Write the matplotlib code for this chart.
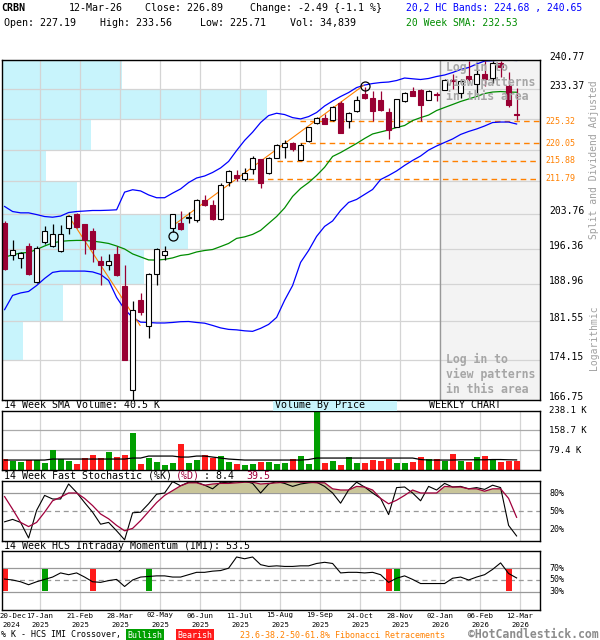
import matplotlib
matplotlib.use('Agg')
import matplotlib.pyplot as plt
import matplotlib.transforms as mtransforms
from matplotlib.ticker import NullLocator
import numpy as np

plt.rcParams['font.family'] = ['DejaVu Sans Mono']

# ---------------- data ----------------
date_labels = ['20-Dec', '17-Jan', '21-Feb', '28-Mar', '02-May', '06-Jun', '11-Jul',
               '15-Aug', '19-Sep', '24-Oct', '28-Nov', '02-Jan', '06-Feb', '12-Mar']
year_labels = ['2024', '2025', '2025', '2025', '2025', '2025', '2025',
               '2025', '2025', '2025', '2025', '2026', '2026', '2026']

opens = [201.86, 194.94, 194.46, 196.84, 189.37, 197.76, 196.9, 195.84, 200.87, 203.9,
         201.58, 200.07, 193.7, 192.86, 195.3, 188.7, 168.5, 185.7, 180.55, 190.98,
         195.09, 200.87, 201.86, 202.98, 202.44, 207.03, 205.76, 202.66, 210.98, 212.53,
         211.77, 214.08, 216.24, 213.15, 216.63, 219.1, 220.05, 216.17, 220.56, 224.87,
         226.07, 225.68, 229.79, 225.35, 227.98, 232.13, 231.14, 230.64, 227.56, 223.91,
         230.29, 232.95, 233.2, 230.64, 232.13, 233.12, 235.75, 232.28, 236.6, 234.7,
         237.2, 236.18, 240.1, 234.2, 227.19]
highs = [202.23, 198.13, 195.63, 197.64, 196.84, 201.15, 201.73, 201.52, 203.74, 204.03,
         201.7, 200.7, 194.9, 195.3, 197.0, 192.86, 185.6, 187.16, 191.34, 196.6,
         196.9, 203.96, 204.6, 204.25, 207.1, 208.16, 207.0, 210.85, 213.69, 213.69,
         214.31, 216.94, 216.36, 216.7, 219.94, 220.94, 220.3, 220.0, 223.96, 226.32,
         227.16, 229.1, 230.46, 227.5, 231.46, 233.78, 232.77, 232.95, 228.55, 230.96,
         232.53, 233.96, 233.25, 233.0, 232.7, 235.93, 237.03, 235.93, 240.6, 239.77,
         240.6, 240.6, 240.5, 237.62, 233.56]
lows = [191.8, 194.05, 192.38, 190.9, 189.3, 197.27, 196.8, 195.63, 199.58, 200.9,
        195.3, 193.55, 188.84, 191.81, 190.7, 174.1, 166.7, 182.7, 178.38, 188.84,
        194.05, 199.86, 200.29, 201.86, 202.08, 205.7, 202.6, 202.44, 210.08, 211.2,
        211.2, 212.92, 209.73, 212.92, 216.6, 216.55, 218.17, 216.0, 220.32, 224.72,
        224.7, 225.5, 222.4, 223.67, 227.56, 230.89, 225.35, 227.81, 220.97, 223.84,
        230.04, 231.5, 225.35, 230.47, 230.29, 233.07, 233.37, 231.14, 235.49, 232.13,
        234.2, 234.97, 236.36, 228.97, 225.71]
closes = [192.02, 196.13, 195.42, 191.13, 196.55, 200.14, 199.57, 199.57, 203.52, 201.0,
          198.13, 196.34, 192.86, 193.69, 190.77, 174.2, 183.7, 183.36, 190.98, 196.34,
          195.84, 203.9, 200.65, 203.05, 206.88, 205.75, 202.66, 210.46, 213.46, 212.0,
          213.06, 216.63, 210.85, 216.63, 219.53, 220.14, 218.72, 219.7, 223.91, 226.07,
          224.72, 228.97, 222.57, 227.41, 230.71, 231.14, 227.81, 228.23, 223.12, 230.89,
          232.38, 231.53, 229.4, 232.95, 231.88, 235.67, 235.31, 235.49, 235.93, 237.2,
          235.93, 240.1, 239.06, 229.38, 226.89]

upper_band = [205.53, 204.41, 204.12, 204.12, 203.74, 203.31, 203.16, 203.41, 204.19, 204.41,
              204.52, 204.64, 204.64, 204.70, 204.79, 208.74, 209.28, 209.01, 208.11, 207.48,
              207.48, 208.51, 209.46, 210.91, 211.95, 212.41, 213.22, 214.27, 215.78, 218.33,
              220.73, 222.71, 225.04, 226.74, 227.31, 226.99, 226.24, 225.92, 226.49, 227.49,
              229.10, 230.34, 231.46, 232.45, 233.70, 234.34, 234.73, 234.98, 235.11, 235.49,
              236.13, 235.93, 235.75, 236.01, 236.52, 236.90, 237.54, 238.31, 238.82, 239.72,
              240.49, 240.6, 240.7, 240.7, 240.65]
sma20 = [194.59, 195.05, 195.46, 195.57, 196.19, 196.94, 197.59, 197.92, 198.07, 198.13,
         198.13, 197.98, 197.76, 197.48, 196.94, 196.30, 195.26, 194.63, 194.00, 193.96,
         194.11, 194.42, 194.94, 195.15, 195.67, 195.98, 196.19, 196.82, 197.48, 198.56,
         198.89, 199.42, 200.29, 201.80, 203.31, 205.20, 207.77, 209.57, 210.91, 212.53,
         214.42, 216.94, 217.86, 218.93, 220.01, 221.20, 222.28, 222.76, 223.24, 223.84,
         224.32, 225.52, 226.24, 226.86, 227.98, 228.73, 229.47, 230.22, 230.84, 231.46,
         232.20, 232.58, 232.70, 232.58, 232.53]
lower_band = [183.85, 186.70, 187.20, 187.50, 188.70, 190.15, 191.40, 191.67, 191.67, 191.67,
              191.67, 191.50, 190.98, 189.73, 186.30, 183.91, 182.31, 181.38, 181.32, 181.22,
              181.22, 181.32, 181.47, 181.51, 181.32, 181.18, 180.74, 180.26, 179.97, 179.88,
              179.69, 179.59, 180.17, 180.94, 182.31, 185.71, 188.70, 193.48, 195.98, 198.99,
              201.15, 202.34, 204.64, 206.43, 207.10, 208.22, 209.34, 211.60, 212.53, 213.57,
              214.85, 216.01, 217.05, 218.44, 219.41, 220.25, 221.08, 222.16, 222.88, 223.48,
              224.20, 225.04, 225.16, 225.16, 224.68]

price_grid = [166.75, 174.15, 181.55, 188.96, 196.36, 203.76, 211.16, 218.56, 225.97, 233.37, 240.77]
price_labels_shown = [166.75, 174.15, 181.55, 188.96, 196.36, 203.76, 233.37, 240.77]
fib_levels = [225.32, 220.05, 215.88, 211.79]
fib_start = [36.9, 36.9, 34.0, 30.4]
vbp_volume = [0, 21, 61, 142, 186, 75, 44, 89, 265, 120]

trend_down = ([7.96, 16.93], [203.52, 180.74])
trend_up = ([20.96, 44.84], [201.21, 234.21])
circle_idx = [21, 45]
circle_price = [199.06, 234.21]

volume_k = [44, 37, 32, 39, 39, 28, 80, 44, 37, 24, 48, 60, 48, 72, 52, 60, 150, 24, 48, 32,
            20, 28, 106, 28, 40, 60, 48, 56, 32, 24, 20, 24, 32, 32, 24, 28, 44, 56, 24, 238,
            28, 36, 20, 52, 28, 28, 40, 36, 44, 28, 28, 32, 52, 44, 44, 36, 64, 36, 32, 52,
            56, 44, 32, 36, 36]
vol_sma_k = [40, 40, 40, 40, 40, 40, 44, 44, 44, 44, 44, 44, 44, 44, 44, 44, 48, 48, 56, 56,
             56, 56, 52, 52, 56, 56, 52, 48, 44, 42, 40, 40, 40, 40, 40, 40, 40, 40, 42, 48,
             48, 48, 48, 48, 48, 48, 48, 48, 48, 48, 48, 48, 42, 40, 40, 40, 40, 41, 41, 41,
             41, 42, 42, 41, 40.5]
vol_ticks = [79.4, 158.7, 238.1]

stoch_k = [32, 36, 31, 5, 51, 76, 70, 70, 95, 81, 64, 48, 28, 31, 17, 2, 47, 48, 62, 78,
           80, 99, 92, 98, 98, 93, 87, 98, 97, 99, 100, 96, 80, 95, 99, 96, 91, 95, 97, 98,
           91, 80, 63, 85, 98, 90, 80, 71, 44, 89, 90, 80, 67, 91, 85, 96, 90, 91, 87, 89,
           86, 93, 89, 26, 8.4]
stoch_d = [74, 53, 31, 24, 31, 48, 67, 73, 80, 80, 71, 59, 45, 37, 26, 17, 21, 34, 49, 64,
           76, 84, 92, 97, 97, 93, 95, 96, 96, 97, 98, 98, 95, 96, 97, 98, 99, 98, 98, 97,
           97, 87, 85, 85, 91, 90, 85, 71, 62, 68, 76, 85, 80, 80, 80, 91, 90, 90, 87, 87,
           83, 87, 87, 71, 39.5]

imi = [51.6, 50, 47, 42, 47, 51, 55, 62, 59, 62, 55, 47, 46, 49, 51, 39, 50, 55, 56, 57,
       57, 55, 55, 59, 63, 63, 65, 66, 70, 89, 86, 89, 76, 73, 74, 73, 73, 74, 74, 78,
       80, 78, 62, 63, 63, 62, 63, 59, 46, 53, 57, 51, 44, 44, 44, 44, 53, 55, 50, 55,
       59, 68, 79, 61, 53.5]
cross_idx = [0, 5, 11, 18, 48, 49, 63]
cross_type = ['bear', 'bull', 'bear', 'bull', 'bear', 'bull', 'bear']

# ---------------- layout helpers ----------------
W, H = 600, 640
fig = plt.figure(figsize=(W / 100, H / 100), dpi=100)
fig.patch.set_facecolor('white')


def fx(px):
    return px / W


def fy(py):
    return 1 - py / H


def add_ax(top, bottom):
    return fig.add_axes([fx(2), fy(bottom), fx(538), (bottom - top) / H])


x = np.arange(len(opens))
XL = (-0.325, 66.925)          # bar i sits at pixel 4.6 + 8*i
grid_x = [4.425 + 5 * k for k in range(13)]   # 17-Jan ... 12-Mar

GRID = '#d4d4d4'
MAROON = '#990033'
BLUE = '#0000ff'
GREEN = '#008c00'
ORANGE = '#ff8000'
VBP = '#c8f4fc'
VGREEN = '#009f00'
VRED = '#ff1a1a'

ax = add_ax(60, 400)
axv = add_ax(410.7, 470)
axs = add_ax(481, 541)
axi = add_ax(550.5, 609.5)

for a in (ax, axv, axs, axi):
    a.set_xlim(*XL)
    a.xaxis.set_major_locator(NullLocator())
    a.xaxis.set_minor_locator(NullLocator())
    a.yaxis.set_major_locator(NullLocator())
    a.yaxis.set_minor_locator(NullLocator())
    for s in a.spines.values():
        s.set_linewidth(1.0)
        s.set_color('black')
        s.set_zorder(10)
    for gx in grid_x:
        a.axvline(gx, color=GRID, lw=0.9, zorder=0.5)

# ---------------- main price panel ----------------
ax.set_yscale('log')
ax.set_ylim(166.75, 240.77)
ax.yaxis.set_major_locator(NullLocator())
ax.yaxis.set_minor_locator(NullLocator())

# volume by price
for k in range(len(vbp_volume)):
    if vbp_volume[k] > 0:
        ax.barh(price_grid[k], vbp_volume[k] / 8.0, height=price_grid[k + 1] - price_grid[k],
                left=XL[0], align='edge', color=VBP, lw=0, zorder=0.3)

for g in price_grid:
    ax.axhline(g, color=GRID, lw=0.9, zorder=0.6)

# log-in shaded area (from the 02-Jan gridline)
ax.axvspan(grid_x[10], XL[1], color='#f3f3f3', zorder=0.55, lw=0)
ax.axvline(grid_x[10], color='#999999', lw=1.0, zorder=0.7)
for ty in (67, 359.5):
    for j, line in enumerate(['Log in to', 'view patterns', 'in this area']):
        fig.text(fx(446), fy(ty + 15 * j), line, color='#a6a6a6', fontsize=8.3,
                 fontweight='bold', va='center', ha='left', zorder=1)

# fibonacci lines
for lvl, st in zip(fib_levels, fib_start):
    ax.plot([st, XL[1]], [lvl, lvl], color=ORANGE, lw=1.0, ls=(0, (4, 3)), zorder=2)

# bands and SMA
ax.plot(x, upper_band, color=BLUE, lw=0.9, zorder=3)
ax.plot(x, lower_band, color=BLUE, lw=0.9, zorder=3)
ax.plot(x, sma20, color=GREEN, lw=0.9, zorder=3)

# trend lines
ax.plot(*trend_down, color=ORANGE, lw=0.8, zorder=3.5)
ax.plot(*trend_up, color=ORANGE, lw=0.8, zorder=3.5)

# candles
o = np.array(opens)
c = np.array(closes)
up = c >= o
for i in range(len(o)):
    col = 'black' if up[i] else MAROON
    ax.vlines(i, lows[i], highs[i], color=col, lw=0.9, zorder=4)
    bot = min(o[i], c[i])
    h = max(abs(c[i] - o[i]), 0.12)
    ax.bar(i, h, bottom=bot, width=0.68,
           facecolor='white' if up[i] else MAROON,
           edgecolor=col, lw=0.8, zorder=5)

ax.plot(circle_idx, circle_price, 'o', mfc='none', mec='black', ms=6.5, mew=0.9, zorder=6)

# right labels for main panel
tm = mtransforms.blended_transform_factory(fig.transFigure, ax.transData)
for v in price_labels_shown:
    fig.text(fx(549), v, f'{v:.2f}', transform=tm, fontsize=7, va='baseline', ha='left')
for v in fib_levels:
    fig.text(fx(545), v, f'{v:.2f}', transform=tm, fontsize=6, va='center', ha='left',
             color=ORANGE)
fig.text(fx(594), fy(160), 'Split and Dividend Adjusted', rotation=90, color='#a0a0a0',
         fontsize=7, va='center', ha='center')
fig.text(fx(594), fy(338), 'Logarithmic', rotation=90, color='#a0a0a0',
         fontsize=7, va='center', ha='center')

# ---------------- header ----------------
HS = 7.2
fig.text(fx(1), fy(8), 'CRBN', fontsize=HS, fontweight='bold', va='center')
fig.text(fx(69), fy(8), '12-Mar-26', fontsize=HS, va='center')
fig.text(fx(145), fy(8), 'Close: 226.89', fontsize=HS, va='center')
fig.text(fx(250), fy(8), 'Change: -2.49 {-1.1 %}', fontsize=HS, va='center')
fig.text(fx(406), fy(8), '20,2 HC Bands: 224.68 , 240.65', fontsize=7, va='center', color=BLUE)
fig.text(fx(4), fy(23), 'Open: 227.19', fontsize=HS, va='center')
fig.text(fx(100), fy(23), 'High: 233.56', fontsize=HS, va='center')
fig.text(fx(200), fy(23), 'Low: 225.71', fontsize=HS, va='center')
fig.text(fx(290), fy(23), 'Vol: 34,839', fontsize=HS, va='center')
fig.text(fx(406), fy(23), '20 Week SMA: 232.53', fontsize=7, va='center', color=GREEN)

# ---------------- volume panel ----------------
axv.set_ylim(0, 238.1)
vcol = [VGREEN if u else VRED for u in up]
for t in vol_ticks[:2]:
    axv.axhline(t, color='#aaaaaa', lw=0.9, zorder=0.6)
axv.bar(x, volume_k, width=0.75, color=vcol, lw=0, zorder=2)
axv.plot(x, vol_sma_k, color='black', lw=0.9, zorder=3)
tv = mtransforms.blended_transform_factory(fig.transFigure, axv.transData)
for t in vol_ticks:
    fig.text(fx(549), t, f'{t:.1f} K', transform=tv, fontsize=6.5, va='center', ha='left')
fig.text(fx(4), fy(405.5), '14 Week SMA Volume: 40.5 K', fontsize=HS, va='center')
fig.patches.append(plt.Rectangle((fx(273), fy(410.5)), fx(124), 10 / H, transform=fig.transFigure,
                                 facecolor=VBP, edgecolor='none', zorder=0))
fig.text(fx(275), fy(405.5), 'Volume By Price', fontsize=HS, va='center')
fig.text(fx(465), fy(405.5), 'WEEKLY CHART', fontsize=HS, va='center', ha='center')

# ---------------- stochastic panel ----------------
axs.set_ylim(0, 100)
axs.axhline(80, color='#999999', lw=0.9, zorder=0.6)
axs.axhline(20, color='#999999', lw=0.9, zorder=0.6)
axs.axhline(50, color='#999999', lw=0.9, ls=(0, (4, 3)), zorder=0.6)
d = np.array(stoch_d, dtype=float)
axs.fill_between(x, d, 80, where=d > 80, interpolate=True, color='#c9c59a', lw=0, zorder=1)
axs.fill_between(x, d, 20, where=d < 20, interpolate=True, color='#c9c59a', lw=0, zorder=1)
axs.plot(x, stoch_k, color='black', lw=0.8, zorder=3)
axs.plot(x, stoch_d, color='#a0003c', lw=0.9, zorder=3)
ts = mtransforms.blended_transform_factory(fig.transFigure, axs.transData)
for t in (80, 50, 20):
    fig.text(fx(549), t, f'{t}%', transform=ts, fontsize=6, va='center', ha='left')
fig.text(fx(4), fy(476), '14 Week Fast Stochastic (%K)', fontsize=HS, va='center')
fig.text(fx(176), fy(476), '(%D)', fontsize=HS, va='center', color='#a0003c')
fig.text(fx(204), fy(476), ': 8.4', fontsize=HS, va='center')
fig.text(fx(246), fy(476), '39.5', fontsize=HS, va='center', color='#a0003c')

# ---------------- IMI panel ----------------
axi.set_ylim(0, 100)
axi.axhline(70, color='#999999', lw=0.9, zorder=0.6)
axi.axhline(30, color='#999999', lw=0.9, zorder=0.6)
axi.axhline(50, color='#999999', lw=0.9, ls=(0, (4, 3)), zorder=0.6)
for ci, ct in zip(cross_idx, cross_type):
    axi.bar(ci, 36, bottom=32, width=0.75, color=VGREEN if ct == 'bull' else VRED,
            lw=0, zorder=2)
axi.plot(x, imi, color='black', lw=0.8, zorder=3)
ti = mtransforms.blended_transform_factory(fig.transFigure, axi.transData)
for t in (70, 50, 30):
    fig.text(fx(549), t, f'{t}%', transform=ti, fontsize=6, va='center', ha='left')
fig.text(fx(4), fy(546), '14 Week HCS Intraday Momentum (IMI): 53.5', fontsize=HS, va='center')

# ---------------- x labels ----------------
XS = 5.3
txl = mtransforms.blended_transform_factory(axi.transData, fig.transFigure)
fig.text(fx(-0.5), fy(615.5), date_labels[0], fontsize=XS, va='center', ha='left')
fig.text(fx(2), fy(625), year_labels[0], fontsize=XS, va='center', ha='left')
for k in range(1, len(date_labels)):
    gx = grid_x[k - 1]
    fig.text(gx, fy(615.5), date_labels[k], transform=txl, fontsize=XS, va='center', ha='center')
    fig.text(gx, fy(625), year_labels[k], transform=txl, fontsize=XS, va='center', ha='center')

# ---------------- legend row ----------------
fig.text(fx(1), fy(635), '% K - HCS IMI Crossover,', fontsize=6, va='center')
fig.text(fx(145), fy(635), 'Bullish', fontsize=6, va='center', ha='center', color='white',
         bbox=dict(boxstyle='square,pad=0.2', facecolor=VGREEN, edgecolor='none'))
fig.text(fx(195), fy(635), 'Bearish', fontsize=6, va='center', ha='center', color='white',
         bbox=dict(boxstyle='square,pad=0.2', facecolor=VRED, edgecolor='none'))
fig.text(fx(240), fy(635), '23.6-38.2-50-61.8% Fibonacci Retracements', fontsize=6,
         va='center', color=ORANGE)
fig.text(fx(599), fy(634.5), '\u00a9HotCandlestick.com', fontsize=8.3, fontweight='bold',
         va='center', ha='right', color='#8c8c8c')

fig.savefig('out.png', dpi=100)
